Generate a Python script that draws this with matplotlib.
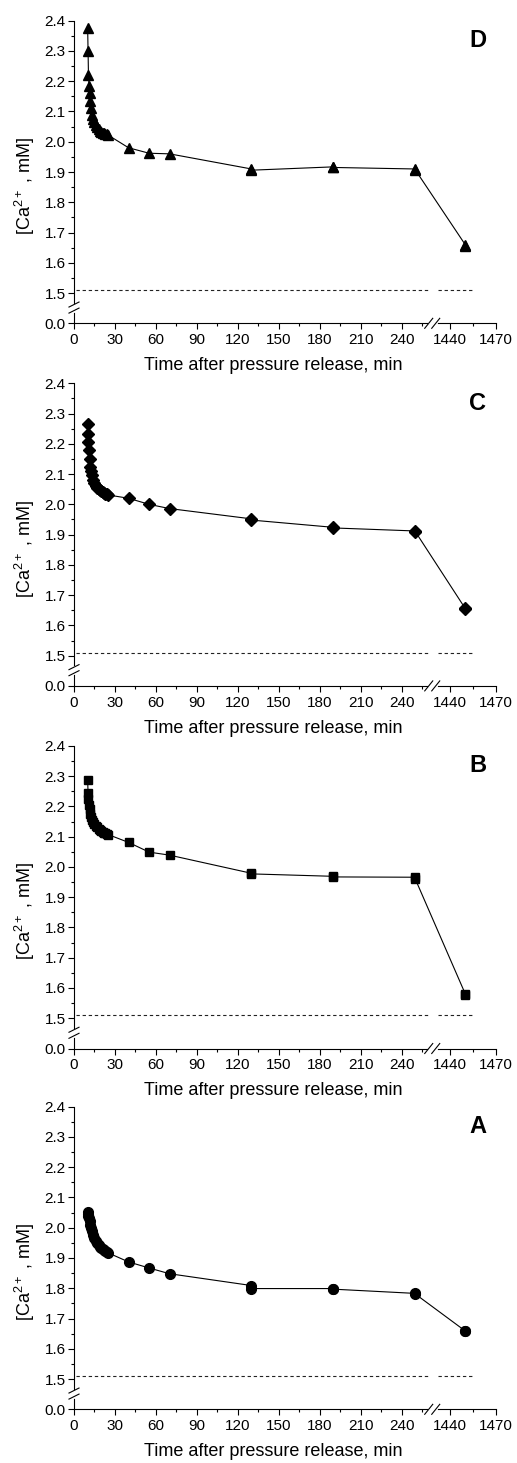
import numpy as np
import matplotlib
matplotlib.use("Agg")
import matplotlib.pyplot as plt
from matplotlib.ticker import FixedLocator, FixedFormatter

plt.rcParams['font.family'] = ['Liberation Sans', 'DejaVu Sans']
plt.rcParams['mathtext.default'] = 'regular'

# ---------------- data ----------------
time_min = [10, 10.3, 10.6, 11, 11.5, 12, 12.5, 13, 14, 15, 16, 17, 18, 19, 20,
            21, 22, 23, 24, 25, 40, 55, 70, 130, 130, 190, 190, 250, 250, 1450, 1450]

ca_D = [2.375, 2.300, 2.220, 2.185, 2.160, 2.135, 2.110, 2.090, 2.075, 2.065, 2.055,
        2.048, 2.042, 2.037, 2.033, 2.030, 2.028, 2.026, 2.024, 2.022, 1.980, 1.962,
        1.960, 1.910, 1.906, 1.917, 1.915, 1.910, 1.907, 1.660, 1.657]
ca_C = [2.264, 2.231, 2.206, 2.180, 2.150, 2.125, 2.110, 2.098, 2.080, 2.070, 2.060,
        2.054, 2.050, 2.047, 2.044, 2.041, 2.038, 2.035, 2.033, 2.031, 2.020, 2.000,
        1.986, 1.952, 1.948, 1.924, 1.922, 1.912, 1.910, 1.656, 1.654]
ca_B = [2.286, 2.245, 2.225, 2.205, 2.190, 2.175, 2.165, 2.155, 2.148, 2.141, 2.136,
        2.131, 2.127, 2.123, 2.119, 2.116, 2.113, 2.111, 2.109, 2.107, 2.081, 2.049,
        2.039, 1.979, 1.977, 1.969, 1.967, 1.966, 1.960, 1.581, 1.578]
ca_A = [2.052, 2.045, 2.038, 2.031, 2.022, 2.010, 2.000, 1.990, 1.975, 1.965, 1.957,
        1.950, 1.943, 1.938, 1.934, 1.930, 1.926, 1.922, 1.919, 1.917, 1.887, 1.867,
        1.848, 1.809, 1.799, 1.799, 1.797, 1.783, 1.781, 1.659, 1.658]

baseline_ca = 1.51

panel_letters = ['D', 'C', 'B', 'A']
panel_values = [ca_D, ca_C, ca_B, ca_A]
panel_markers = ['^', 'D', 's', 'o']
panel_msize = [7.5, 6.5, 5.5, 7.0]

x_major = [0, 30, 60, 90, 120, 150, 180, 210, 240, 1440, 1470]
x_major_labels = ['0', '30', '60', '90', '120', '150', '180', '210', '240', '1440', '1470']
x_minor = [15, 45, 75, 105, 135, 165, 195, 225, 255, 1455]
y_major = [0.0, 1.5, 1.6, 1.7, 1.8, 1.9, 2.0, 2.1, 2.2, 2.3, 2.4]
y_major_labels = ['0.0', '1.5', '1.6', '1.7', '1.8', '1.9', '2.0', '2.1', '2.2', '2.3', '2.4']
y_minor = [1.55, 1.65, 1.75, 1.85, 1.95, 2.05, 2.15, 2.25, 2.35]

xlabel = 'Time after pressure release, min'
ylabel = '[Ca$^{2+}$ , mM]'


# ---------------- broken-axis scales ----------------
def fwd_x(t):
    t = np.asarray(t, float)
    return np.where(t <= 260, t,
                    np.where(t >= 1440, 275.4 + (t - 1440) * (33.5 / 30.0),
                             260 + (t - 260) * (15.4 / 1180.0)))


def inv_x(u):
    u = np.asarray(u, float)
    return np.where(u <= 260, u,
                    np.where(u >= 275.4, 1440 + (u - 275.4) * (30.0 / 33.5),
                             260 + (u - 260) * (1180.0 / 15.4)))


def fwd_y(v):
    v = np.asarray(v, float)
    return np.where(v >= 1.5, v, 1.4 + v * (0.1 / 1.5))


def inv_y(u):
    u = np.asarray(u, float)
    return np.where(u >= 1.5, u, (u - 1.4) * 15.0)


W, H = 517, 1463
fig = plt.figure(figsize=(W / 100, H / 100), dpi=100)

left_px, right_px = 74, 495.7
axh_px = 302.6
bottoms_px = [323.3, 685.9, 1048.5, 1409.3]

for letter, vals, mk, ms, bpx in zip(panel_letters, panel_values, panel_markers,
                                      panel_msize, bottoms_px):
    ax = fig.add_axes([left_px / W, 1 - bpx / H, (right_px - left_px) / W, axh_px / H])
    ax.set_xscale('function', functions=(fwd_x, inv_x))
    ax.set_yscale('function', functions=(fwd_y, inv_y))
    ax.set_xlim(0, 1470)
    ax.set_ylim(0, 2.4)

    ax.plot(time_min, vals, color='black', lw=0.8, marker=mk, ms=ms,
            mfc='black', mec='black', clip_on=False, zorder=3)

    # dashed reference line (broken like the axis)
    ax.axhline(baseline_ca, xmin=0.005, xmax=0.839, color='#222222', lw=0.8,
               ls=(0, (3, 2.5)))
    ax.axhline(baseline_ca, xmin=0.863, xmax=0.945, color='#222222', lw=0.8,
               ls=(0, (3, 2.5)))

    for s in ['top', 'right']:
        ax.spines[s].set_visible(False)
    for s in ['left', 'bottom']:
        ax.spines[s].set_linewidth(0.8)

    ax.xaxis.set_major_locator(FixedLocator(x_major))
    ax.xaxis.set_major_formatter(FixedFormatter(x_major_labels))
    ax.xaxis.set_minor_locator(FixedLocator(x_minor))
    ax.yaxis.set_major_locator(FixedLocator(y_major))
    ax.yaxis.set_major_formatter(FixedFormatter(y_major_labels))
    ax.yaxis.set_minor_locator(FixedLocator(y_minor))
    ax.tick_params(which='major', direction='out', length=4, width=0.8,
                   labelsize=11, pad=2)
    ax.tick_params(axis='x', which='major', pad=3)
    ax.tick_params(which='minor', direction='out', length=2.2, width=0.8)

    ax.set_xlabel(xlabel, fontsize=13)
    ax.xaxis.set_label_coords(0.4736, -0.112)
    ax.set_ylabel(ylabel, fontsize=13)
    ax.yaxis.set_label_coords(-0.088, 0.454)

    ax.text(0.958, 0.934, letter, transform=ax.transAxes, fontsize=17,
            fontweight='bold', ha='center', va='center')

    # x-axis break marks
    tr = ax.transAxes
    ax.plot([0.8412, 0.8578], [0, 0], transform=tr, color='white', lw=2.0,
            clip_on=False, zorder=5)
    for xc in (0.8412, 0.8578):
        ax.plot([xc - 0.0095, xc + 0.0095], [-0.0165, 0.0165], transform=tr,
                color='black', lw=0.8, clip_on=False, zorder=6)
    # y-axis break marks
    ax.plot([0, 0], [0.042, 0.062], transform=tr, color='white', lw=2.0,
            clip_on=False, zorder=5)
    for yc in (0.042, 0.062):
        ax.plot([-0.0119, 0.0119], [yc - 0.0083, yc + 0.0083], transform=tr,
                color='black', lw=0.8, clip_on=False, zorder=6)

fig.savefig('out.png', dpi=100)
